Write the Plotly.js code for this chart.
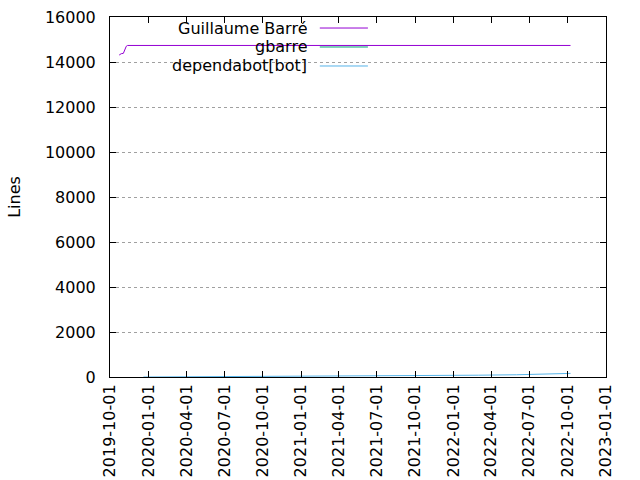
<!DOCTYPE html>
<html>
<head>
<meta charset="utf-8">
<script src="https://cdn.plot.ly/plotly-3.0.1.min.js"></script>
<style>html,body{margin:0;padding:0;background:#fff;}#chart{width:640px;height:480px;}</style>
</head>
<body>
<div id="chart"></div>
<script>
// Data
const authorNames = ["Guillaume Barré", "gbarre", "dependabot[bot]"];
const authorColors = ["#9400d3", "#009e73", "#56b4e9"];

const barreDates = ["2019-10-23", "2019-10-28", "2019-11-02", "2019-11-06", "2019-11-09", "2019-11-12", "2022-10-08"];
const barreLines = [14310, 14370, 14385, 14580, 14700, 14735, 14735];

// a single commit: one point, so no visible line segment
const gbarreDates = ["2019-10-23"];
const gbarreLines = [0];

const botDates = ["2019-12-20", "2020-03-01", "2020-06-01", "2020-09-01", "2020-12-01", "2021-03-01", "2021-06-01", "2021-09-01", "2021-12-01", "2022-03-01", "2022-06-01", "2022-09-01", "2022-10-05", "2022-10-08"];
const botLines = [0, 5, 12, 20, 28, 36, 45, 55, 65, 80, 100, 120, 135, 160];

const xTickVals = ["2019-10-01", "2020-01-01", "2020-04-01", "2020-07-01", "2020-10-01", "2021-01-01", "2021-04-01", "2021-07-01", "2021-10-01", "2022-01-01", "2022-04-01", "2022-07-01", "2022-10-01", "2023-01-01"];
const yTickVals = [0, 2000, 4000, 6000, 8000, 10000, 12000, 14000, 16000];

const seriesX = [barreDates, gbarreDates, botDates];
const seriesY = [barreLines, gbarreLines, botLines];

const traces = authorNames.map((name, i) => ({
  type: 'scatter', mode: 'lines', name: name,
  x: seriesX[i], y: seriesY[i],
  line: {color: authorColors[i], width: 1, shape: 'linear'},
  showlegend: false
}));

const FONT = 'DejaVu Sans, sans-serif';

// Manual gnuplot-style key: text right-aligned, line sample to the right
const keyTextX = 0.399, keyLineX0 = 0.423, keyLineX1 = 0.520;
const keyRows = [0.9694, 0.9167, 0.8639];
const annotations = authorNames.map((name, i) => ({
  xref: 'paper', yref: 'paper', x: keyTextX, y: keyRows[i],
  xanchor: 'right', yanchor: 'middle', text: name, showarrow: false, borderpad: 0,
  height: 17, valign: 'middle',
  font: {family: FONT, size: 16, color: '#000'}
}));
const shapes = [{
  type: 'rect', xref: 'paper', yref: 'paper', x0: 0.02, x1: 0.538, y0: 0.847, y1: 0.99,
  fillcolor: '#ffffff', line: {width: 0}, layer: 'between'
}].concat(authorNames.map((name, i) => ({
  type: 'line', xref: 'paper', yref: 'paper', x0: keyLineX0, x1: keyLineX1, y0: keyRows[i], y1: keyRows[i],
  line: {color: authorColors[i], width: 1}, layer: 'above'
})));

const layout = {
  width: 640, height: 480,
  margin: {l: 110, r: 34, t: 17, b: 103, pad: 0},
  paper_bgcolor: '#fff', plot_bgcolor: '#fff',
  font: {family: FONT, size: 16, color: '#000'},
  showlegend: false,
  xaxis: {
    type: 'date', range: ['2019-10-01', '2023-01-01'],
    tickmode: 'array', tickvals: xTickVals, ticktext: xTickVals,
    tickangle: -90, ticks: 'inside', ticklen: 6, tickcolor: '#000',
    showline: true, linecolor: '#000', linewidth: 1, mirror: 'allticks',
    showgrid: false, zeroline: false,
    tickfont: {family: FONT, size: 16, color: '#000'}
  },
  yaxis: {
    range: [0, 16000], tickmode: 'array', tickvals: yTickVals, ticktext: yTickVals.map(String),
    ticks: 'inside', ticklen: 6, tickcolor: '#000',
    showline: true, linecolor: '#000', linewidth: 1, mirror: 'allticks',
    showgrid: true, gridcolor: '#a0a0a0', griddash: 'dot', gridwidth: 1,
    zeroline: false, ticklabelstandoff: 10,
    tickfont: {family: FONT, size: 16, color: '#000'},
    title: {text: 'Lines', font: {family: FONT, size: 16, color: '#000'}, standoff: 20}
  },
  annotations: annotations,
  shapes: shapes
};

Plotly.newPlot('chart', traces, layout, {staticPlot: true, displayModeBar: false});
</script>
</body>
</html>
